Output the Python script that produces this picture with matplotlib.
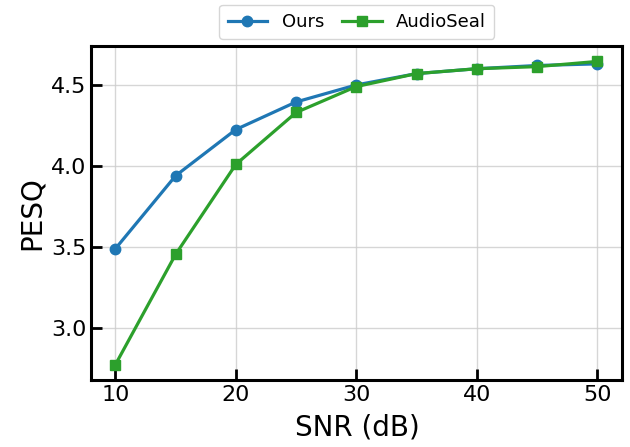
import matplotlib
matplotlib.use('Agg')
import matplotlib.pyplot as plt

# SNR 取值与两种方法的 PESQ
snr = [10, 15, 20, 25, 30, 35, 40, 45, 50]
pesq_ours = [3.49, 3.94, 4.225, 4.395, 4.50, 4.57, 4.60, 4.62, 4.63]
pesq_audioseal = [2.775, 3.455, 4.01, 4.33, 4.49, 4.57, 4.60, 4.613, 4.645]
x_ticks = [10, 20, 30, 40, 50]
y_ticks = [3.0, 3.5, 4.0, 4.5]

fig, ax = plt.subplots(figsize=(6.3, 4.47), dpi=100)
fig.subplots_adjust(left=0.145, right=0.988, top=0.897, bottom=0.15)

ax.plot(snr, pesq_ours, color='#1f77b4', marker='o', markersize=7.5,
        linewidth=2.3, label='Ours')
ax.plot(snr, pesq_audioseal, color='#2ca02c', marker='s', markersize=7.5,
        linewidth=2.3, label='AudioSeal')

ax.set_xlim(8, 52.1)
ax.set_ylim(2.68, 4.74)
ax.set_xticks(x_ticks)
ax.set_yticks(y_ticks)
ax.grid(True, color='#cccccc', linewidth=1, alpha=0.8)
ax.set_xlabel('SNR (dB)', fontsize=20, labelpad=6)
ax.set_ylabel('PESQ', fontsize=20)
ax.tick_params(direction='in', length=8, width=2, labelsize=16)
for s in ax.spines.values():
    s.set_linewidth(2.2)

ax.legend(loc='lower center', bbox_to_anchor=(0.5, 1.01), ncol=2,
          fontsize=13, frameon=True, borderaxespad=0.2, columnspacing=1.0,
          handlelength=2.2, borderpad=0.45)

fig.savefig('out.png', dpi=100)
